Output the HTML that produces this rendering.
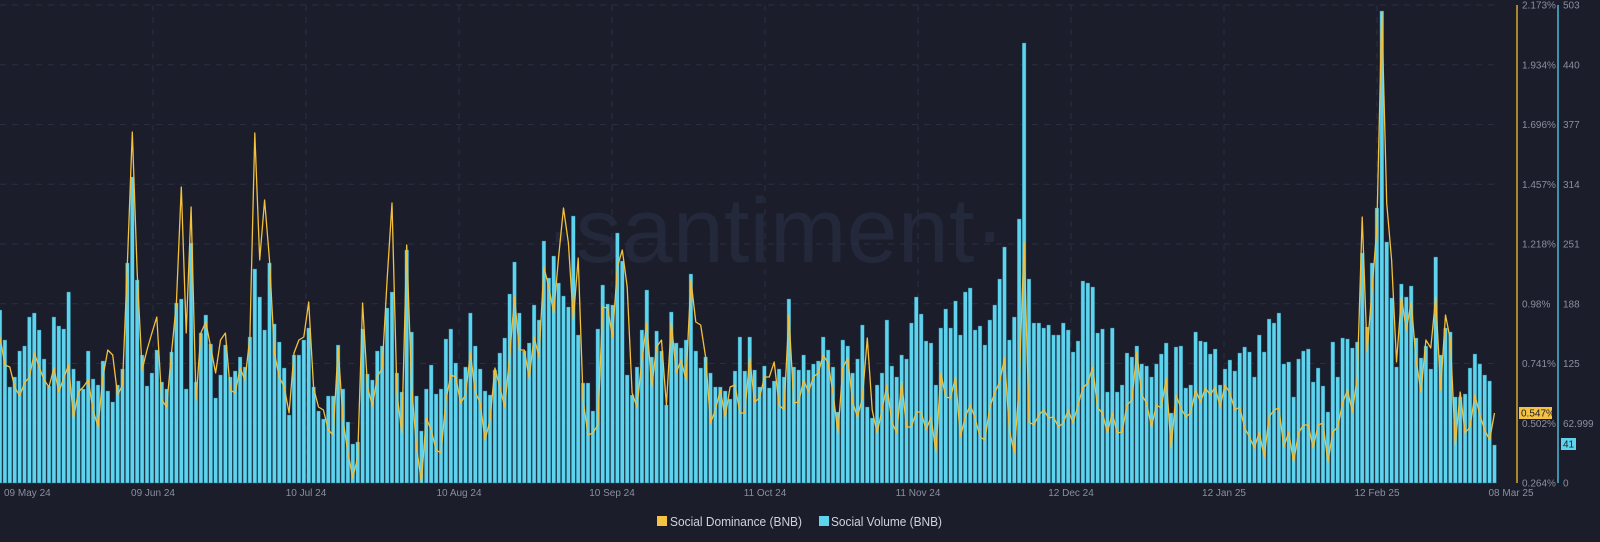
<!DOCTYPE html>
<html><head><meta charset="utf-8">
<style>
html,body{margin:0;padding:0;background:#1b1d2b;}
svg{display:block;font-family:"Liberation Sans",sans-serif;}
</style></head>
<body>
<svg id="c" width="1600" height="542" viewBox="0 0 1600 542" xmlns="http://www.w3.org/2000/svg">
<rect width="1600" height="542" fill="#1b1d2b"/>
<text x="775" y="262" text-anchor="middle" font-size="92" fill="#23283a">·santiment·</text>
<g id="grid" stroke="#2a2e40" stroke-width="1" stroke-dasharray="6,6"></g>
<g id="bars"></g>
<polyline id="ln" fill="none" stroke="#f2c03c" stroke-width="1.3" stroke-linejoin="round"/>
<line x1="1517" y1="5" x2="1517" y2="483" stroke="#d9a92a" stroke-width="1.5"/>
<line x1="1558" y1="5" x2="1558" y2="483" stroke="#4fb8d4" stroke-width="1.5"/>
<g id="lab" font-size="10" fill="#8a8f9e"></g>
<rect x="1519" y="407" width="33" height="12" fill="#f5c242"/>
<text x="1521" y="416.5" font-size="10" fill="#1b1d2b">0.547%</text>
<rect x="1561" y="438" width="15" height="12" fill="#5ed3ee"/>
<text x="1563" y="447.5" font-size="10" fill="#1b1d2b">41</text>
<rect x="657" y="516" width="10" height="10" fill="#f5c242"/>
<text x="670" y="526" font-size="13" fill="#d0d3dc" textLength="132" lengthAdjust="spacingAndGlyphs">Social Dominance (BNB)</text>
<rect x="819" y="516" width="10" height="10" fill="#5ed3ee"/>
<text x="831" y="526" font-size="13" fill="#d0d3dc" textLength="111" lengthAdjust="spacingAndGlyphs">Social Volume (BNB)</text>
</svg>
<script>
var NS="http://www.w3.org/2000/svg";
function el(t,a,p){var e=document.createElementNS(NS,t);for(var k in a)e.setAttribute(k,a[k]);p.appendChild(e);return e;}
var tops=[310,340,387,377,351,346,317,313,330,359,386,317,326,329,292,369,381,389,351,379,385,361,391,402,385,369,263,177,280,355,386,373,350,382,389,352,303,299,389,243,382,333,315,344,398,375,345,377,371,357,367,337,269,297,330,263,324,342,368,415,355,355,340,328,387,411,419,396,396,345,389,422,444,442,329,
374,380,351,346,308,292,373,392,250,332,396,431,389,365,394,389,339,329,363,379,367,313,346,369,391,395,370,353,338,294,262,313,351,343,305,320,241,278,256,283,296,307,216,335,383,383,411,329,285,304,305,233,261,375,395,367,330,290,357,331,351,405,312,343,348,340,274,351,368,357,373,387,387,391,399,371,337,
371,337,370,387,366,388,381,369,377,299,367,370,355,370,364,361,337,350,367,412,340,346,373,359,325,407,418,385,373,320,366,377,355,359,323,297,314,341,343,385,328,309,328,301,335,292,288,330,326,345,320,305,279,247,340,317,219,43,279,323,323,328,325,335,335,323,330,352,341,281,283,287,333,329,392,
328,392,385,353,357,346,364,366,377,364,354,343,413,347,346,388,385,332,341,342,354,349,385,369,360,371,353,347,352,377,335,352,319,323,313,364,362,397,359,351,349,382,368,386,412,342,377,338,339,348,342,253,327,263,208,11,242,298,367,284,297,286,338,358,346,369,257,355,328,332,397,397,394,368,354,364,375,381,445];
var seg1=[337,365,367,387,396,383,377,353,367,380,387,368,392,378,365,418,392,387,380,410,427,377,350,355,395,385,263,132,273,370,350,333,317,400,407,353,303,187,333,207,400,333,322,347,373,340,333,390,393,368,380,337,133,260,200,260,353,377,387,413,353,340,337,302,388,407,410,430,435,347,420,453,478,457,303];
var seg2=[387,406,377,368,280,203,393,433,245,387,447,482,418,430,450,453,400,375,377,403,395,353,392,403,440,420,368,387,407,357,297,350,350,378,337,357,267,287,313,257,208,243,320,258,400,435,433,425,307,308,337,267,250,287,393,407,360,323,387,347,340,405,322,373,360,380,280,322,325,357,423,410,390,417,387,385,413];
var seg3=[413,358,402,398,377,377,362,405,410,315,403,402,380,392,377,373,355,363,393,433,368,358,402,417,398,338,410,433,410,385,422,433,382,427,427,412,412,430,417,452,373,397,398,377,437,417,405,418,437,440,407,393,382,358,430,453,385,242,422,425,415,410,418,417,427,423,410,423,405,388,383,367,408,413,433];
var seg4=[413,433,432,405,400,352,395,403,427,405,408,378,448,395,408,417,413,390,402,388,395,387,407,385,393,410,407,428,437,448,432,457,417,410,408,447,432,462,433,425,425,448,425,423,462,432,427,403,390,412,377,217,352,290,227,12,203,260,362,297,330,302,360,392,340,348,297,390,315,340,445,392,433,427,395,415,430,440,413];
var L=seg1.concat(seg2,seg3,seg4);
var P=4.9,B=483;
var g=document.getElementById('grid');
for(var j=0;j<9;j++){var y=5+j*59.75;el('line',{x1:0,y1:y,x2:1500,y2:y},g);}
var vx=[153,306,459,612,765,918,1071,1224,1377];
vx.forEach(function(x){el('line',{x1:x,y1:5,x2:x,y2:483},g);});
var bg=document.getElementById('bars');
for(var i=0;i<tops.length;i++){var x=i*P-1.9,t=tops[i];el('rect',{x:x,y:t,width:3.8,height:B-t,fill:'#5ed3ee',stroke:'#2a6f86','stroke-width':0.4},bg);}
var pts=[];for(var i=0;i<L.length;i++){pts.push((i*P).toFixed(1)+','+L[i]);}
document.getElementById('ln').setAttribute('points',pts.join(' '));
var lab=document.getElementById('lab');
var pl=['2.173%','1.934%','1.696%','1.457%','1.218%','0.98%','0.741%','0.502%','0.264%'];
var vl=['503','440','377','314','251','188','125','62.999','0'];
for(var j=0;j<9;j++){var y=5+j*59.75+3.5;el('text',{x:1522,y:y},lab).textContent=pl[j];el('text',{x:1563,y:y},lab).textContent=vl[j];}
var dl=[['09 May 24',4,'start'],['09 Jun 24',153,'middle'],['10 Jul 24',306,'middle'],['10 Aug 24',459,'middle'],['10 Sep 24',612,'middle'],['11 Oct 24',765,'middle'],['11 Nov 24',918,'middle'],['12 Dec 24',1071,'middle'],['12 Jan 25',1224,'middle'],['12 Feb 25',1377,'middle'],['08 Mar 25',1511,'middle']];
dl.forEach(function(d){el('text',{x:d[1],y:496,'text-anchor':d[2]},lab).textContent=d[0];});
</script>
</body></html>
